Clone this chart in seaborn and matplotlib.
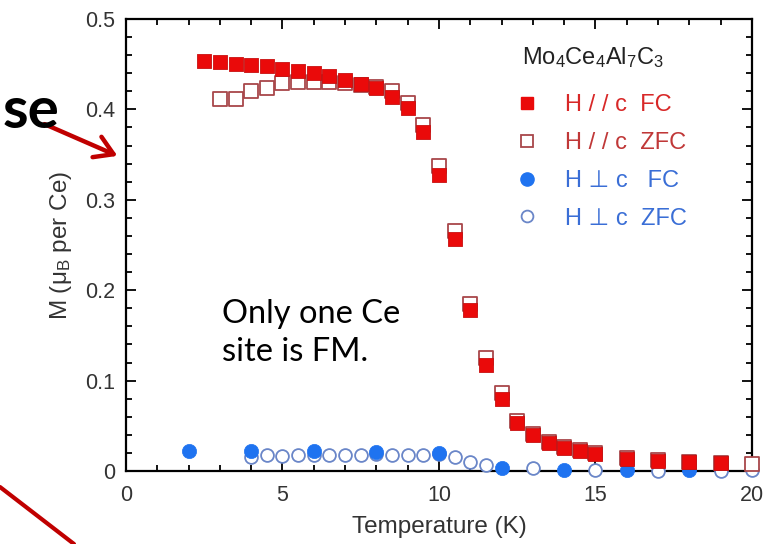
import numpy as np
import pandas as pd
import matplotlib
matplotlib.use("Agg")
import matplotlib.pyplot as plt
from matplotlib.lines import Line2D
import seaborn as sns

# ---------------- data ----------------
T_par_fc = [2.5, 3, 3.5, 4, 4.5, 5, 5.5, 6, 6.5, 7, 7.5, 8, 8.5, 9, 9.5, 10, 10.5, 11, 11.5,
            12, 12.5, 13, 13.5, 14, 14.5, 15, 16, 17, 18, 19]
M_par_fc = [0.453, 0.452, 0.450, 0.449, 0.448, 0.445, 0.443, 0.440, 0.437, 0.433, 0.428, 0.424,
            0.414, 0.401, 0.375, 0.327, 0.257, 0.178, 0.117, 0.080, 0.053, 0.040, 0.031, 0.025,
            0.022, 0.019, 0.013, 0.011, 0.010, 0.009]

T_par_zfc = [3, 3.5, 4, 4.5, 5, 5.5, 6, 6.5, 7, 7.5, 8, 8.5, 9, 9.5, 10, 10.5, 11, 11.5,
             12, 12.5, 13, 13.5, 14, 14.5, 15, 16, 17, 18, 19, 20]
M_par_zfc = [0.411, 0.412, 0.420, 0.424, 0.429, 0.430, 0.430, 0.430, 0.429, 0.427, 0.425, 0.420,
             0.407, 0.383, 0.337, 0.265, 0.185, 0.125, 0.086, 0.055, 0.041, 0.032, 0.026,
             0.023, 0.020, 0.014, 0.012, 0.010, 0.009, 0.008]

T_perp_fc = [2, 4, 6, 8, 10, 12, 14, 16, 18]
M_perp_fc = [0.0225, 0.0225, 0.0225, 0.021, 0.020, 0.003, 0.001, 0.001, 0.001]

T_perp_zfc = [4, 4.5, 5, 5.5, 6, 6.5, 7, 7.5, 8, 8.5, 9, 9.5, 10, 10.5, 11, 11.5,
              13, 15, 17, 19, 20]
M_perp_zfc = [0.015, 0.0175, 0.017, 0.0175, 0.018, 0.018, 0.018, 0.018, 0.0185, 0.018, 0.018,
              0.018, 0.019, 0.016, 0.010, 0.0066, 0.003, 0.001, 0.0005, 0.0005, 0.001]

x_ticks = [0, 5, 10, 15, 20]
y_ticks = [0, 0.1, 0.2, 0.3, 0.4, 0.5]
y_tick_labels = ["0", "0.1", "0.2", "0.3", "0.4", "0.5"]
legend_title = "Mo$_4$Ce$_4$Al$_7$C$_3$"
legend_labels = ["H / / c  FC", "H / / c  ZFC", "H \u22a5 c   FC", "H \u22a5 c  ZFC"]

# ---------------- style ----------------
sns.set_style("ticks")
plt.rcParams["font.family"] = ["Liberation Sans", "DejaVu Sans"]
plt.rcParams["mathtext.fontset"] = "custom"
plt.rcParams["mathtext.rm"] = "Liberation Sans"
plt.rcParams["mathtext.it"] = "Liberation Sans"

RED = "#ea0a0a"
RED_EDGE = "#c81010"
ZFC_EDGE = "#a8474a"
BLUE = "#1f73f0"
BLUE_OPEN = "#6a86c8"
TXT_RED = "#d82828"
TXT_RED2 = "#c03838"
TXT_BLUE = "#3a6ed6"
DARKRED = "#c00000"
TXT_GRAY = "#333333"

fig = plt.figure(figsize=(7.82, 5.44), dpi=100)
ax = fig.add_axes([0.1611, 0.1342, 0.8005, 0.8309])


def axc(px, py):
    return (px - 126) / 626, (471 - py) / 452


df_pf = pd.DataFrame({"T": T_par_fc, "M": M_par_fc})
df_pz = pd.DataFrame({"T": T_par_zfc, "M": M_par_zfc})
df_cf = pd.DataFrame({"T": T_perp_fc, "M": M_perp_fc})
df_cz = pd.DataFrame({"T": T_perp_zfc, "M": M_perp_zfc})

sns.scatterplot(data=df_cz, x="T", y="M", ax=ax, marker="o", s=85,
                facecolor="white", edgecolor=BLUE_OPEN, linewidth=1.3, zorder=3, clip_on=False)
sns.scatterplot(data=df_cf, x="T", y="M", ax=ax, marker="o", s=105,
                color=BLUE, edgecolor=BLUE, linewidth=0.5, zorder=4, clip_on=False)
sns.scatterplot(data=df_pz, x="T", y="M", ax=ax, marker="s", s=100,
                facecolor="white", edgecolor=ZFC_EDGE, linewidth=1.3, zorder=5, clip_on=False)
sns.scatterplot(data=df_pf, x="T", y="M", ax=ax, marker="s", s=105,
                color=RED, edgecolor=RED_EDGE, linewidth=0.6, zorder=6, clip_on=False)

ax.set_xlim(0, 20)
ax.set_ylim(0, 0.5)
ax.set_xticks(x_ticks)
ax.set_xticklabels([str(v) for v in x_ticks])
ax.set_yticks(y_ticks)
ax.set_yticklabels(y_tick_labels)
ax.set_xticks(np.arange(0, 20.01, 1), minor=True)
ax.set_yticks(np.arange(0, 0.501, 0.02), minor=True)
ax.tick_params(which="both", direction="in", top=True, right=True, color="black",
               labelsize=15.5, labelcolor=TXT_GRAY, width=1.3)
ax.tick_params(which="major", length=7, pad=8)
ax.tick_params(axis="x", which="major", pad=10)
ax.tick_params(which="minor", length=4)
for sp in ax.spines.values():
    sp.set_linewidth(1.6)
    sp.set_color("black")

ax.set_xlabel("Temperature (K)", fontsize=17.5, color=TXT_GRAY, labelpad=7)
ax.set_ylabel("M (\u03bc$_{\\rm B}$ per Ce)", fontsize=17.5, color=TXT_GRAY, labelpad=8)

# legend
handles = [
    Line2D([], [], marker="s", ls="none", markersize=9, markerfacecolor=RED, markeredgecolor=RED),
    Line2D([], [], marker="s", ls="none", markersize=8.5, markerfacecolor="white",
           markeredgecolor=ZFC_EDGE, markeredgewidth=1.3),
    Line2D([], [], marker="o", ls="none", markersize=9.5, markerfacecolor=BLUE, markeredgecolor=BLUE),
    Line2D([], [], marker="o", ls="none", markersize=8.5, markerfacecolor="white",
           markeredgecolor=BLUE_OPEN, markeredgewidth=1.3),
]
lx, ly = axc(494, 162)
leg = ax.legend(handles, legend_labels, loc="center left", bbox_to_anchor=(lx, ly),
                frameon=False, fontsize=17, handlelength=1.0, handletextpad=1.1,
                labelspacing=0.67, borderpad=0.4)
for t, c in zip(leg.get_texts(), [TXT_RED, TXT_RED2, TXT_BLUE, TXT_BLUE]):
    t.set_color(c)
tx, ty = axc(522, 64)
ax.text(tx, ty, legend_title, transform=ax.transAxes, fontsize=17, color="#222222",
        ha="left", va="baseline")

# annotation text
ax1, ay1 = axc(222, 333)
ax.text(ax1, ay1, "Only one Ce\nsite is FM.", transform=ax.transAxes,
        fontsize=23.5, family=["Lato", "DejaVu Sans"], color="black",
        va="center", ha="left", linespacing=1.32)

# slide fragments outside the chart
fig.text(0.003, 1 - 111 / 544, "se", fontsize=42, fontweight="bold",
         family=["Lato", "DejaVu Sans"], va="center", ha="left", color="black")
fig.patches.append(matplotlib.patches.FancyArrowPatch(
    (42 / 782, 1 - 123 / 544), (120 / 782, 1 - 157 / 544), transform=fig.transFigure,
    arrowstyle="->,head_length=13,head_width=8", color=DARKRED, lw=3.2))
fig.lines.append(Line2D([0, 74 / 782], [1 - 487 / 544, 0], transform=fig.transFigure,
                        color=DARKRED, lw=3))

fig.savefig("out.png", dpi=100)
